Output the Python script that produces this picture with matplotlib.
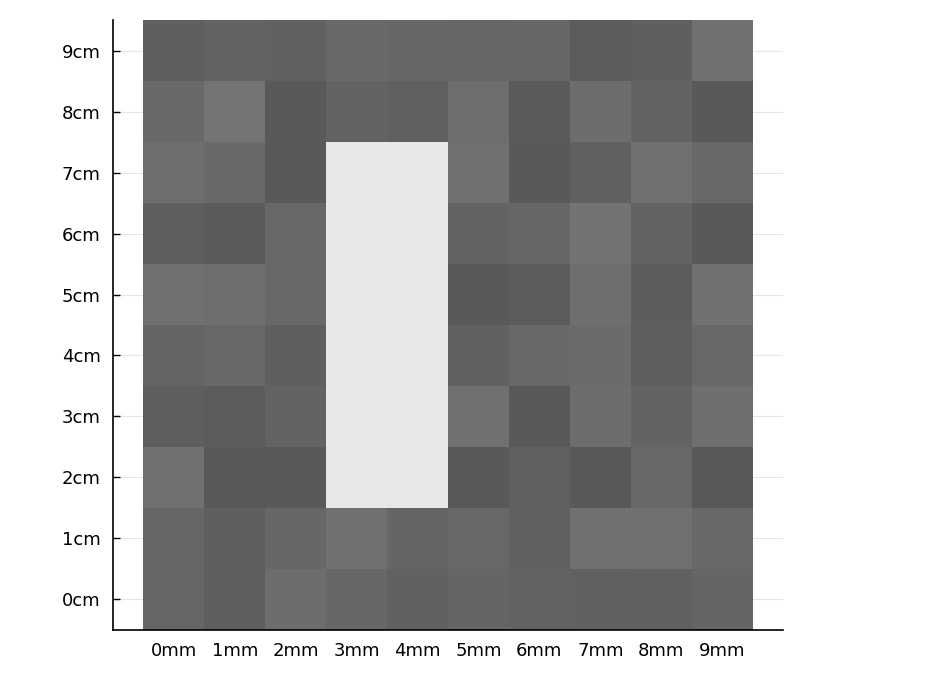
import matplotlib
matplotlib.use('Agg')

import matplotlib.pyplot as plt
import numpy as np

# grey level of each cell (0-255), rows from y=0 (bottom) up to y=9
x_labels = ['0mm', '1mm', '2mm', '3mm', '4mm', '5mm', '6mm', '7mm', '8mm', '9mm']
y_labels = ['0cm', '1cm', '2cm', '3cm', '4cm', '5cm', '6cm', '7cm', '8cm', '9cm']

row0 = [0x66, 0x5f, 0x6d, 0x67, 0x62, 0x65, 0x63, 0x61, 0x62, 0x65]
row1 = [0x66, 0x5f, 0x67, 0x70, 0x65, 0x68, 0x60, 0x72, 0x70, 0x6a]
row2 = [0x70, 0x5a, 0x5a, 0xe8, 0xe8, 0x5a, 0x60, 0x5a, 0x68, 0x5a]
row3 = [0x5e, 0x5c, 0x63, 0xe8, 0xe8, 0x70, 0x5a, 0x6d, 0x63, 0x6f]
row4 = [0x64, 0x68, 0x5f, 0xe8, 0xe8, 0x62, 0x69, 0x6b, 0x5e, 0x68]
row5 = [0x70, 0x6e, 0x68, 0xe8, 0xe8, 0x5a, 0x5c, 0x6f, 0x5d, 0x72]
row6 = [0x5e, 0x5b, 0x68, 0xe8, 0xe8, 0x63, 0x66, 0x73, 0x63, 0x5a]
row7 = [0x6e, 0x69, 0x5a, 0xe8, 0xe8, 0x70, 0x5a, 0x60, 0x70, 0x6a]
row8 = [0x69, 0x74, 0x5a, 0x63, 0x60, 0x6e, 0x5b, 0x6d, 0x63, 0x5a]
row9 = [0x5f, 0x63, 0x61, 0x69, 0x67, 0x66, 0x67, 0x5c, 0x5f, 0x72]

grid = np.array([row0, row1, row2, row3, row4, row5, row6, row7, row8, row9]) / 255.0

fig = plt.figure(figsize=(9.3, 6.79), dpi=100)
ax = fig.add_axes([113/930, 49/679, 670/930, 610/679])

ax.imshow(grid, cmap='gray', vmin=0, vmax=1, origin='lower',
          interpolation='nearest', aspect='equal', zorder=2)

ax.set_xlim(-1, 10)
ax.set_ylim(-0.5, 9.5)
ax.set_xticks(range(10))
ax.set_xticklabels(x_labels)
ax.set_yticks(range(10))
ax.set_yticklabels(y_labels)

ax.grid(True, color='#e5e5e5', linewidth=0.8, zorder=0)
ax.set_axisbelow(True)
for s in ['top', 'right']:
    ax.spines[s].set_visible(False)
ax.spines['left'].set_linewidth(1.2)
ax.spines['bottom'].set_linewidth(1.2)

ax.tick_params(axis='y', direction='in', length=5, width=1, labelsize=13, pad=9)
ax.tick_params(axis='x', length=0, labelsize=13, pad=9)

plt.savefig('out.png', dpi=100)
